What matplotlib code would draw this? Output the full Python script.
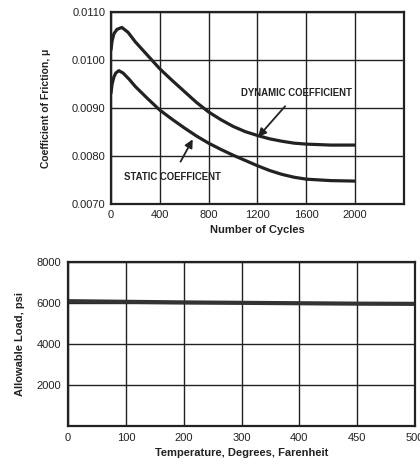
import matplotlib
matplotlib.use("Agg")
import matplotlib.pyplot as plt

plt.rcParams['font.family'] = ['Liberation Sans', 'DejaVu Sans']

# ---- Top chart data ----
dyn_cycles = [0, 10, 25, 50, 90, 140, 200, 300, 400, 500, 600, 700, 800, 900, 1000,
              1100, 1200, 1300, 1400, 1500, 1600, 1800, 2000]
dynamic = [0.01020, 0.01040, 0.01055, 0.01064, 0.01068, 0.01058, 0.01038, 0.01010,
           0.00982, 0.00958, 0.00935, 0.00912, 0.00892, 0.00876, 0.00862,
           0.00851, 0.00843, 0.00836, 0.00831, 0.00827, 0.00825, 0.00823, 0.00823]
sta_cycles = [0, 10, 25, 40, 65, 100, 150, 200, 300, 400, 500, 600, 700, 800, 900,
              1000, 1100, 1200, 1300, 1400, 1500, 1600, 1800, 2000]
static = [0.00930, 0.00950, 0.00965, 0.00973, 0.00978, 0.00973, 0.00960, 0.00945,
          0.00920, 0.00896, 0.00877, 0.00859, 0.00842, 0.00827, 0.00814,
          0.00802, 0.00791, 0.00780, 0.00770, 0.00762, 0.00756, 0.00752, 0.00749, 0.00748]
cyc_ticks = [0, 400, 800, 1200, 1600, 2000]
mu_ticks = [0.0070, 0.0080, 0.0090, 0.0100, 0.0110]

# ---- Bottom chart data ----
temp_labels = ["0", "100", "200", "300", "400", "450", "500"]
load = [6080, 6050, 6020, 6000, 5980, 5960, 5950]
load_ticks = [2000, 4000, 6000, 8000]

fig = plt.figure(figsize=(4.2, 4.65), dpi=100)
fig.patch.set_facecolor('white')

# Top axes
ax1 = fig.add_axes([0.264, 0.561, 0.698, 0.413])
ax1.plot(dyn_cycles, dynamic, color='#222222', lw=2.3, solid_capstyle='butt')
ax1.plot(sta_cycles, static, color='#222222', lw=2.3, solid_capstyle='butt')
ax1.set_xlim(0, 2400)
ax1.set_ylim(0.0070, 0.0110)
ax1.set_xticks(cyc_ticks + [2400])
ax1.set_xticklabels([str(t) for t in cyc_ticks] + [""])
ax1.set_yticks(mu_ticks)
ax1.set_yticklabels([f"{t:.4f}" for t in mu_ticks])
ax1.grid(True, color='#222222', lw=1.0)
ax1.tick_params(length=0, labelsize=8, pad=4, colors='#222222')
for s in ax1.spines.values():
    s.set_linewidth(1.6)
    s.set_color('#222222')
ax1.set_xlabel("Number of Cycles", fontsize=8, fontweight='bold', labelpad=4, color='#222222')
ax1.set_ylabel("Coefficient of Friction, \u03bc", fontsize=7.5, fontweight='bold', labelpad=15, color='#222222')

ax1.annotate("DYNAMIC COEFFICIENT", xy=(1205, 0.00840), xytext=(1520, 0.00931),
             ha='center', va='center', fontsize=6.9, fontweight='bold', color='#222222',
             arrowprops=dict(arrowstyle='-|>', color='#222222', lw=1.3, mutation_scale=12,
                             shrinkA=5, shrinkB=0))
ax1.annotate("STATIC COEFFICENT", xy=(670, 0.00835), xytext=(503, 0.00757),
             ha='center', va='center', fontsize=6.9, fontweight='bold', color='#222222',
             arrowprops=dict(arrowstyle='-|>', color='#222222', lw=1.3, mutation_scale=12,
                             shrinkA=6, shrinkB=0))

# Bottom axes
ax2 = fig.add_axes([0.162, 0.084, 0.826, 0.353])
xpos = list(range(len(temp_labels)))
ax2.plot(xpos, load, color='#333333', lw=3.0)
ax2.set_xlim(0, len(temp_labels) - 1)
ax2.set_ylim(0, 8000)
ax2.set_xticks(xpos)
ax2.set_xticklabels(temp_labels)
ax2.set_yticks(load_ticks)
ax2.set_yticklabels([str(t) for t in load_ticks])
ax2.grid(True, color='#222222', lw=1.0)
ax2.tick_params(length=0, labelsize=8, pad=5, colors='#222222')
for s in ax2.spines.values():
    s.set_linewidth(1.6)
    s.set_color('#222222')
ax2.set_xlabel("Temperature, Degrees, Farenheit", fontsize=8, fontweight='bold', labelpad=4, color='#222222')
ax2.set_ylabel("Allowable Load, psi", fontsize=8, fontweight='bold', labelpad=8, color='#222222')

fig.savefig("out.png", dpi=100)
